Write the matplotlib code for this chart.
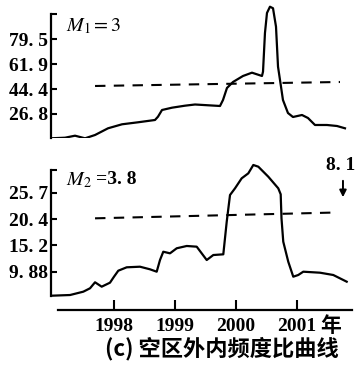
import matplotlib
matplotlib.use('Agg')
import matplotlib.pyplot as plt

# top panel: M1 curve
yr1 = [1996.967, 1997.197, 1997.361, 1997.525, 1997.689, 1997.902, 1998.131, 1998.393,
       1998.672, 1998.721, 1998.787, 1998.951, 1999.164, 1999.328, 1999.738, 1999.787,
       1999.852, 1999.951, 2000.115, 2000.262, 2000.426, 2000.443, 2000.475, 2000.508,
       2000.557, 2000.607, 2000.656, 2000.689, 2000.738, 2000.770, 2000.852, 2000.934,
       2001.082, 2001.180, 2001.295, 2001.492, 2001.656, 2001.787]
v1 = [9.65, 10.07, 11.49, 9.65, 11.98, 16.71, 19.53, 20.94,
      22.57, 24.89, 29.62, 31.25, 32.66, 33.5, 32.45, 36.68,
      45.15, 49.38, 53.62, 55.95, 53.62, 56.65, 83.96, 98.08,
      102.5, 101.4, 88.4, 60.18, 46.07, 36.68, 27.5, 24.68,
      26.09, 23.98, 19.04, 19.04, 18.33, 16.71]
dash1_x = [1997.689, 2001.705]
dash1_y = [46.56, 49.38]
ticks1 = [26.8, 44.4, 61.9, 79.5]
tick1_labels = ['26. 8', '44. 4', '61. 9', '79. 5']

# bottom panel: M2 curve
yr2 = [1996.967, 1997.279, 1997.497, 1997.607, 1997.689, 1997.798, 1997.934, 1998.0,
       1998.070, 1998.208, 1998.426, 1998.590, 1998.700, 1998.754, 1998.808, 1998.918,
       1999.028, 1999.192, 1999.356, 1999.520, 1999.628, 1999.792, 1999.848, 1999.902,
       1999.984, 2000.093, 2000.202, 2000.284, 2000.366, 2000.530, 2000.693, 2000.733,
       2000.746, 2000.775, 2000.857, 2000.939, 2001.021, 2001.103, 2001.377, 2001.595,
       2001.815]
v2 = [5.07, 5.21, 5.88, 6.56, 7.76, 6.88, 7.68, 8.88,
      10.08, 10.76, 10.88, 10.36, 9.88, 12.22, 13.88, 13.56,
      14.57, 15.03, 14.89, 12.22, 13.22, 13.36, 19.89, 25.24,
      26.58, 28.58, 29.58, 31.25, 30.91, 28.90, 26.58, 25.38,
      20.57, 15.89, 11.88, 8.88, 9.22, 9.88, 9.68, 9.22,
      7.88]
dash2_x = [1997.689, 2001.623]
dash2_y = [20.57, 21.73]
ticks2 = [9.88, 15.2, 20.4, 25.7]
tick2_labels = ['9. 88', '15. 2', '20. 4', '25. 7']

years = [1998, 1999, 2000, 2001]
peak_note = '8. 1'
note_x = 2001.754

W, H = 355, 368
fig = plt.figure(figsize=(W / 100, H / 100), dpi=100)
plt.rcParams['mathtext.fontset'] = 'stix'

def box(l, r, t, b):
    return [l / W, 1 - b / H, (r - l) / W, (b - t) / H]

num_font = dict(family='Liberation Serif', weight='bold', size=14)
cjk = ['Noto Sans CJK SC', 'DejaVu Sans']
xlim = (1996.967, 2001.902)

# ---- top
ax1 = fig.add_axes(box(51, 352, 5, 138.3))
ax1.plot(yr1, v1, color='black', lw=1.6, solid_joinstyle='round')
ax1.plot(dash1_x, dash1_y, color='black', lw=1.5, dashes=(5, 4))
ax1.set_xlim(*xlim)
ax1.set_ylim(9.65, 103.7)
for s in ['top', 'right', 'bottom']:
    ax1.spines[s].set_visible(False)
ax1.spines['left'].set_bounds(9.65, 97.4)
ax1.spines['left'].set_linewidth(1.6)
ax1.set_yticks(ticks1 + [97.4])
ax1.set_yticklabels(tick1_labels + [''], fontdict=num_font)
ax1.tick_params(axis='y', direction='in', length=4, width=1.5, pad=2)
ax1.set_xticks([])
fig.text(66 / W, 1 - 26 / H, r'$M_1=3$', fontsize=14.5, va='center', ha='left')

# ---- bottom
ax2 = fig.add_axes(box(51, 352, 160, 310))
ax2.plot(yr2, v2, color='black', lw=1.6, solid_joinstyle='round')
ax2.plot(dash2_x, dash2_y, color='black', lw=1.5, dashes=(5, 4))
ax2.set_xlim(*xlim)
ax2.set_ylim(2.21, 32.25)
for s in ['top', 'right']:
    ax2.spines[s].set_visible(False)
ax2.spines['left'].set_bounds(5.07, 30.24)
ax2.spines['left'].set_linewidth(1.6)
ax2.spines['bottom'].set_bounds(1997.082, 2001.902)
ax2.spines['bottom'].set_linewidth(1.6)
ax2.set_yticks(ticks2 + [30.24])
ax2.set_yticklabels(tick2_labels + [''], fontdict=num_font)
ax2.tick_params(axis='y', direction='in', length=4, width=1.5, pad=2)
ax2.set_xticks(years)
ax2.set_xticklabels([str(y) for y in years], fontdict=num_font)
ax2.tick_params(axis='x', direction='in', length=7, width=1.5, pad=6)
fig.text(66 / W, 1 - 180 / H, r'$M_2$', fontsize=14.5, va='center', ha='left')
fig.text(96 / W, 1 - 180 / H, '=3. 8', fontsize=14, va='center', ha='left',
         family='Liberation Serif', weight='bold')

ax2.annotate('', xy=(note_x, 24.24), xytext=(note_x, 28.64),
             arrowprops=dict(arrowstyle='-|>', color='black', lw=1.4, mutation_scale=10))
ax2.text(2001.721, 31.21, peak_note, ha='center', va='center',
         fontfamily='Liberation Serif', fontweight='bold', fontsize=14)

fig.text(331 / W, 1 - 325 / H, '年', family=cjk, weight='bold', fontsize=15,
         ha='center', va='center')
fig.text(222 / W, 1 - 349 / H, '(c) 空区外内频度比曲线', family=cjk, weight='bold',
         fontsize=16, ha='center', va='center')

fig.savefig('out.png', dpi=100)
